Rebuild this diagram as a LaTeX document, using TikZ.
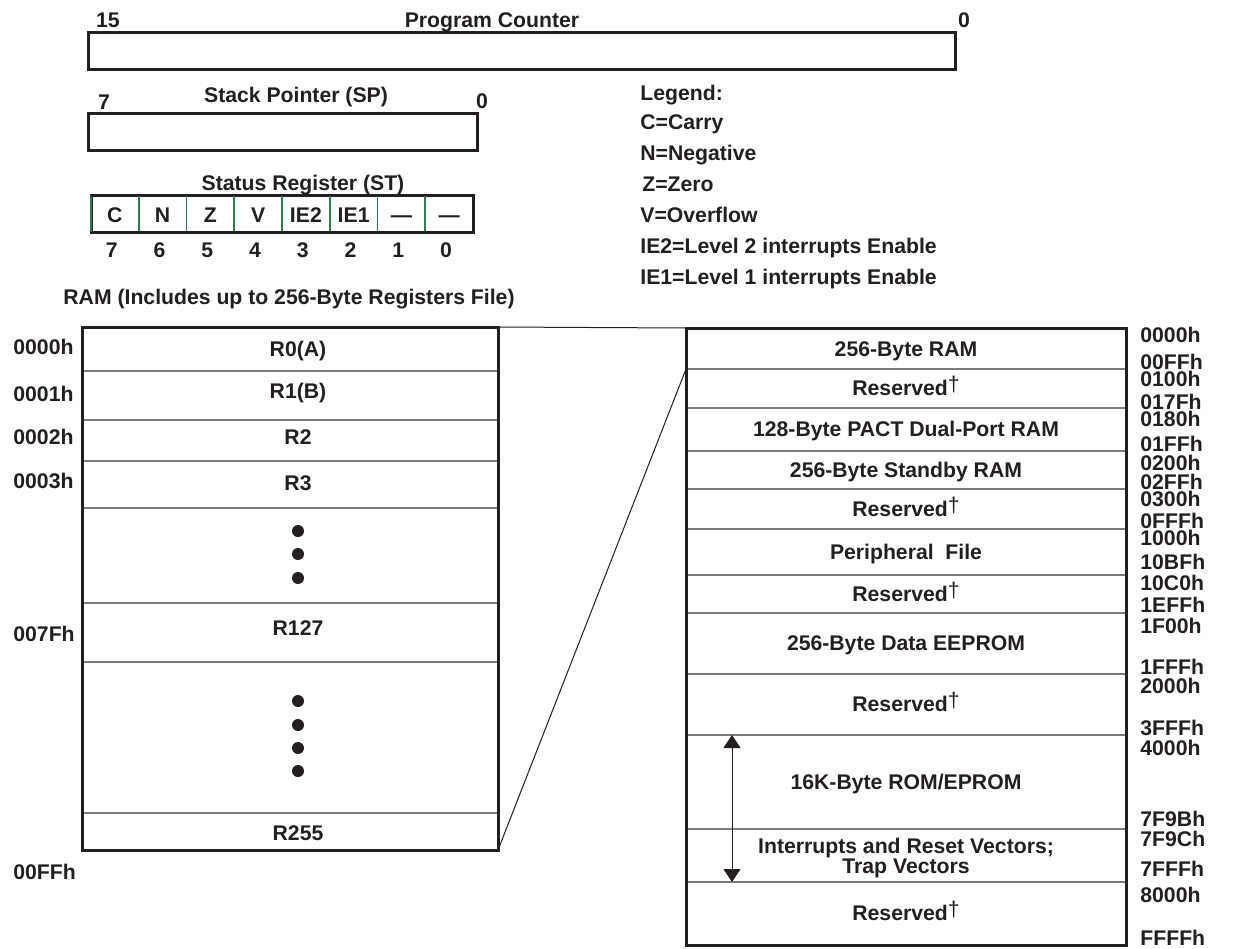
\documentclass[tikz,border=0pt]{standalone}
\usepackage{fontspec}
\setmainfont{Liberation Sans}
\usetikzlibrary{arrows.meta,positioning}
\definecolor{ink}{RGB}{35,31,32}
\definecolor{rule}{RGB}{125,125,125}
\definecolor{bitline}{RGB}{50,120,80}
\newcommand{\rsv}{Reserved\raisebox{0.2em}{\mdseries †}}

\begin{document}
\begin{tikzpicture}[x=0.5pt,y=-0.5pt,
  lbl/.style={font=\fontsize{10.6}{10}\selectfont\bfseries,text=ink,inner sep=0pt,text height=7.5pt,text depth=0pt},
  addr/.style={lbl,anchor=west},
  frame/.style={draw=ink,line width=1.5pt},
  sep/.style={draw=rule,line width=0.6pt},
  zoomln/.style={draw=ink,line width=0.5pt},
  span/.style={{Triangle[length=6.5pt,width=8.5pt]}-{Triangle[length=6.5pt,width=8.5pt]},draw=ink,line width=0.5pt}]
  \useasboundingbox (0,0) rectangle (1235,948);

  % program counter and stack pointer
  \draw[frame] (88,32) rectangle (955,69);
  \node[lbl] (pchi) at (108,20) {15};
  \node[lbl] (pcname) at (492,20) {Program Counter};
  \node[lbl] (pclo) at (964,20) {0};
  \draw[frame] (88,113) rectangle (477,150);
  \node[lbl] (sphi) at (104,102) {7};
  \node[lbl] (spname) at (296,95) {Stack Pointer (SP)};
  \node[lbl] (splo) at (482,101) {0};

  % status register
  \node[lbl] (stname) at (303,183) {Status Register (ST)};
  \draw[frame] (91,195) rectangle (473,232);
  \foreach \k in {0,...,7}{\draw[bitline,line width=0.9pt] ({91+47.75*\k},196) -- ({91+47.75*\k},231);}
  \foreach \t/\b [count=\k from 0] in {C/7,N/6,Z/5,V/4,IE2/3,IE1/2,—/1,—/0}{
    \node[lbl] (flag\b) at ({91+47.75*(\k+0.5)},215) {\t};
    \node[lbl] (bit\b) at ({88+47.75*(\k+0.5)},250) {\b};}

  % legend
  \node[addr] (legend) at (640,93) {Legend:};
  \node[addr] (lgc) at (640,122) {C=Carry};
  \node[addr] (lgn) at (640,153) {N=Negative};
  \node[addr] (lgz) at (642,184) {Z=Zero};
  \node[addr] (lgv) at (640,215) {V=Overflow};
  \node[addr] (lgie2) at (640,246) {IE2=Level 2 interrupts Enable};
  \node[addr] (lgie1) at (640,277) {IE1=Level 1 interrupts Enable};

  % register file
  \node[lbl] (ramname) at (289,297) {RAM (Includes up to 256-Byte Registers File)};
  \foreach \y in {371,420,461,508,603,662,813}{\draw[sep] (83,\y) -- (497,\y);}
  \draw[frame] (82,327) rectangle (498,850);
  \foreach \y/\t [count=\i] in {349/R0(A),391/R1(B),437/R2,483/R3,628/R127,833/R255}{
    \node[lbl] (reg\i) at (298,\y) {\t};}
  \foreach \y in {531,554,578,701,725,748,771}{\fill[ink] (298,\y) circle (6);}
  \foreach \y/\t [count=\i] in {347/0000h,394/0001h,437/0002h,481/0003h,634/007Fh,872/00FFh}{
    \node[addr] (ra\i) at (13,\y) {\t};}

  % memory map
  \foreach \y in {369,408,451,489,529,575,613,674,735,829,882}{\draw[sep] (687,\y) -- (1125,\y);}
  \draw[frame] (686,328) rectangle (1126,945);
  \foreach \y/\t [count=\i] in {349/{256-Byte RAM},388/{\rsv},429/{128-Byte PACT Dual-Port RAM},
      470/{256-Byte Standby RAM},509/{\rsv},552/{Peripheral\ \ File},594/{\rsv},643/{256-Byte Data EEPROM},
      704/{\rsv},782/{16K-Byte ROM/EPROM},913/{\rsv}}{
    \node[lbl] (blk\i) at (906,\y) {\t};}
  \node[lbl,align=center,text height=,text depth=] (vec) at (906,858) {Interrupts and Reset Vectors;\\Trap Vectors};
  \foreach \y/\t [count=\i] in {335/0000h,362/00FFh,379/0100h,402/017Fh,419/0180h,444/01FFh,463/0200h,
      482/02FFh,499/0300h,521/0FFFh,538/1000h,562/10BFh,583/10C0h,605/1EFFh,626/1F00h,667/1FFFh,
      686/2000h,728/3FFFh,748/4000h,819/7F9Bh,839/7F9Ch,869/7FFFh,895/8000h,938/FFFFh}{
    \node[addr] (ma\i) at (1140,\y) {\t};}

  % zoom lines and rom span
  \coordinate (ramne) at (498,327);
  \coordinate (ramse) at (498,850);
  \coordinate (mapnw) at (686,328);
  \coordinate (maprow) at (686,369);
  \draw[zoomln] (ramne) -- (mapnw);
  \draw[zoomln] (ramse) -- (maprow);
  \coordinate (romtop) at (732,735);
  \coordinate (rombot) at (732,882);
  \draw[span] (romtop) -- (rombot);
\end{tikzpicture}
\end{document}
